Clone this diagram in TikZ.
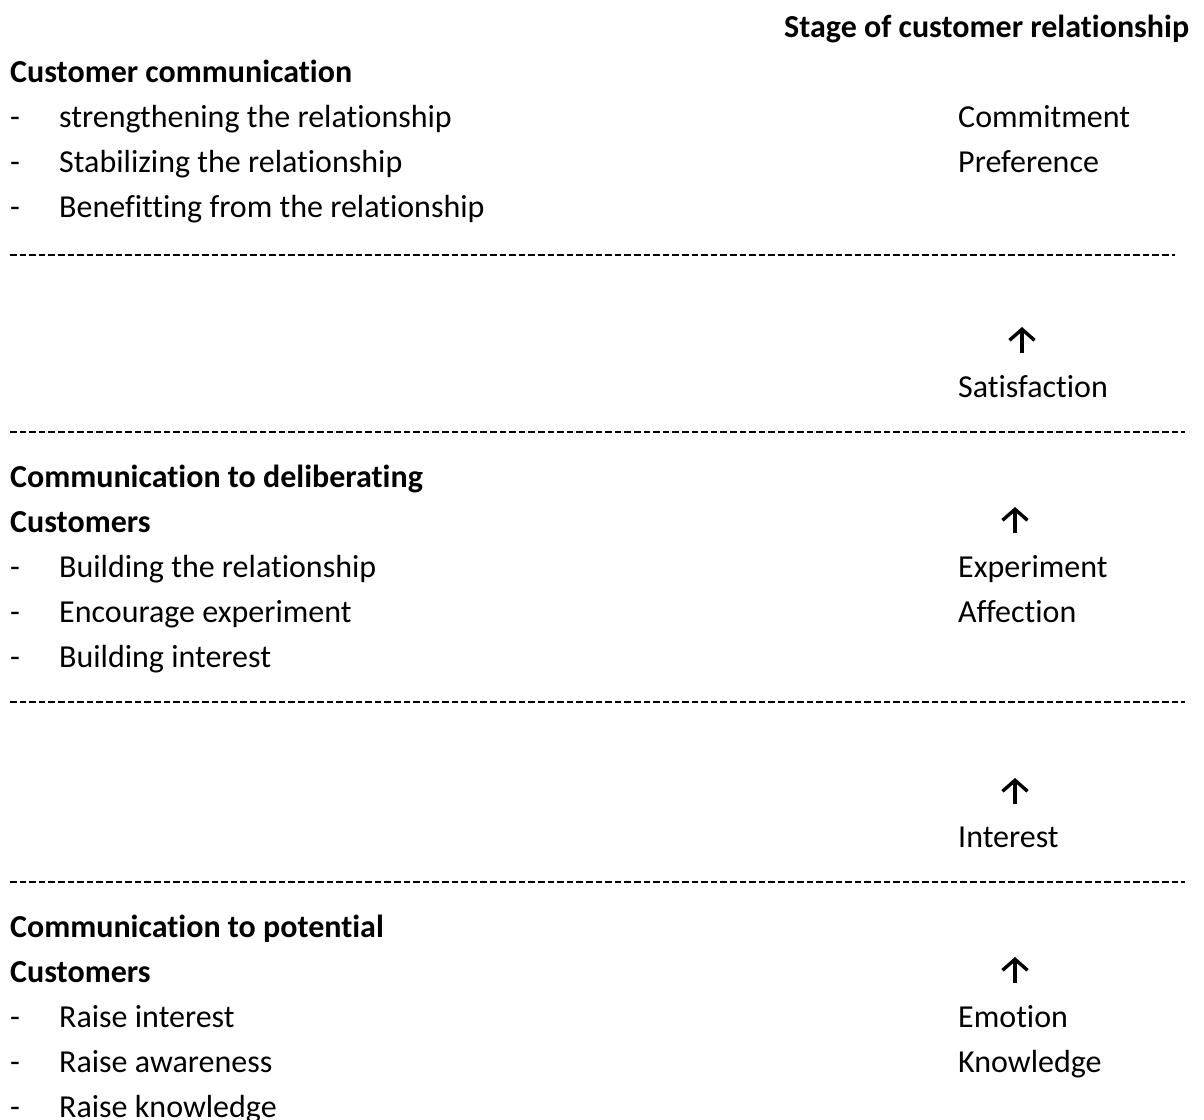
\documentclass[tikz,border=0pt]{standalone}
\usepackage{fontspec}
\setmainfont[Ligatures={NoCommon,NoRare}]{Carlito}
\usetikzlibrary{arrows.meta}

\begin{document}
\begin{tikzpicture}[x=1pt,y=-1pt,
  every node/.style={inner sep=0pt,anchor=base west,font=\fontsize{32}{38}\selectfont},
  head/.style={font=\fontsize{32}{38}\selectfont\bfseries},
  sepline/.style={line width=2.7pt,dash pattern=on 6.6pt off 3pt},
  uparrow/.style={line width=3.4pt,-{Straight Barb[length=11pt,width=25pt,line width=3.4pt]}}]
  \useasboundingbox (0,0) rectangle (1204,1119);

  % right column title
  \node[head] (stage) at (784,37) {Stage of customer relationship};

  % customer communication
  \node[head] (custcomm) at (10,82) {Customer communication};
  \node (d1) at (10,127) {-};
  \node (strengthen) at (59,127) {strengthening the relationship};
  \node (d2) at (10,172) {-};
  \node (stabilize) at (59,172) {Stabilizing the relationship};
  \node (d3) at (10,217) {-};
  \node (benefit) at (59,217) {Benefitting from the relationship};
  \node (commit) at (958,127) {Commitment};
  \node (pref) at (958,172) {Preference};

  \coordinate (sepAl) at (10,255);
  \coordinate (sepAr) at (1175,255);
  \draw[sepline] (sepAl) -- (sepAr);

  \coordinate (arrAlo) at (1022,353);
  \coordinate (arrAhi) at (1022,327);
  \draw[uparrow] (arrAlo) -- (arrAhi);
  \node (satis) at (958,397) {Satisfaction};

  \coordinate (sepBl) at (10,432);
  \coordinate (sepBr) at (1185,432);
  \draw[sepline] (sepBl) -- (sepBr);

  % deliberating customers
  \node[head] (delib) at (10,487) {Communication to deliberating};
  \node[head] (delibcust) at (10,532) {Customers};
  \node (d4) at (10,577) {-};
  \node (build) at (59,577) {Building the relationship};
  \node (d5) at (10,622) {-};
  \node (encourage) at (59,622) {Encourage experiment};
  \node (d6) at (10,667) {-};
  \node (buildint) at (59,667) {Building interest};
  \coordinate (arrBlo) at (1015,533);
  \coordinate (arrBhi) at (1015,507);
  \draw[uparrow] (arrBlo) -- (arrBhi);
  \node (exper) at (958,577) {Experiment};
  \node (affect) at (958,622) {Affection};

  \coordinate (sepCl) at (10,702);
  \coordinate (sepCr) at (1185,702);
  \draw[sepline] (sepCl) -- (sepCr);

  \coordinate (arrClo) at (1015,804);
  \coordinate (arrChi) at (1015,778);
  \draw[uparrow] (arrClo) -- (arrChi);
  \node (interest) at (958,847) {Interest};

  \coordinate (sepDl) at (10,882);
  \coordinate (sepDr) at (1185,882);
  \draw[sepline] (sepDl) -- (sepDr);

  % potential customers
  \node[head] (potent) at (10,937) {Communication to potential};
  \node[head] (potcust) at (10,982) {Customers};
  \node (d7) at (10,1027) {-};
  \node (raiseint) at (59,1027) {Raise interest};
  \node (d8) at (10,1072) {-};
  \node (raiseaw) at (59,1072) {Raise awareness};
  \node (d9) at (10,1117) {-};
  \node (raiseknow) at (59,1117) {Raise knowledge};
  \coordinate (arrDlo) at (1015,983);
  \coordinate (arrDhi) at (1015,957);
  \draw[uparrow] (arrDlo) -- (arrDhi);
  \node (emotion) at (958,1027) {Emotion};
  \node (knowl) at (958,1072) {Knowledge};
\end{tikzpicture}
\end{document}
